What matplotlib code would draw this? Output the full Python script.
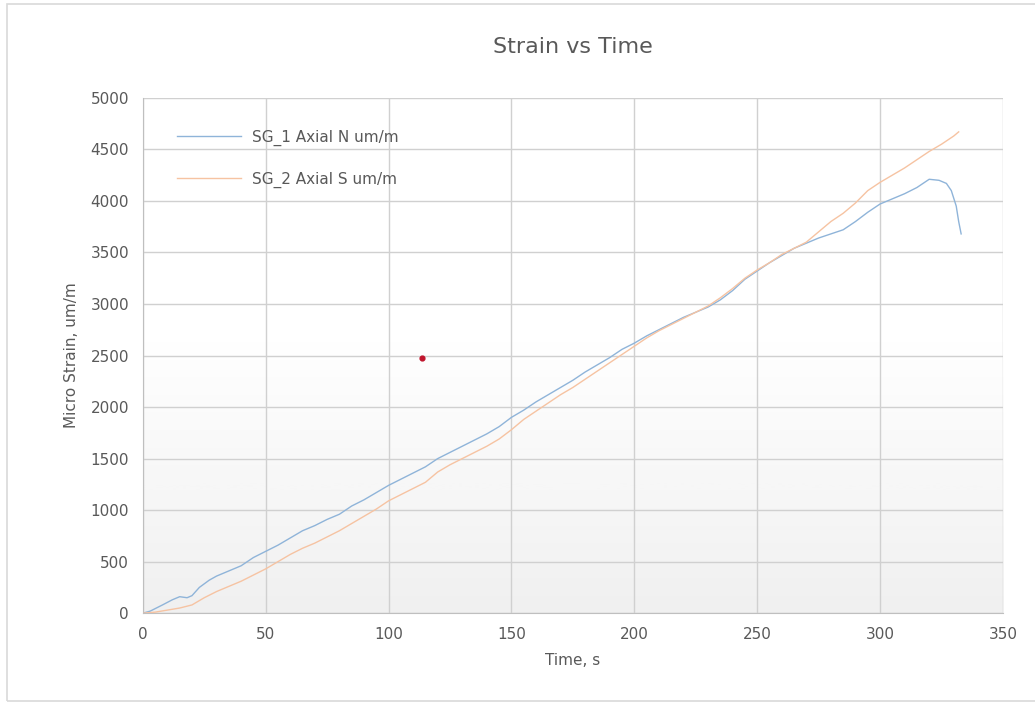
import matplotlib.pyplot as plt
from matplotlib.patches import Rectangle
import numpy as np

# data
t_sg1 = [0, 3, 8, 12, 15, 18, 20, 23, 27, 30, 35, 40, 45, 50, 55, 60, 65, 70, 75, 80,
         85, 90, 95, 100, 105, 110, 115, 120, 125, 130, 135, 140, 145, 150, 155, 160,
         165, 170, 175, 180, 185, 190, 195, 200, 205, 210, 215, 220, 225, 230, 235,
         240, 245, 250, 255, 260, 265, 270, 275, 280, 285, 290, 295, 300, 305, 310,
         315, 320, 324, 327, 329, 331, 332, 333]
sg1 = [0, 20, 80, 130, 160, 150, 170, 250, 320, 360, 410, 460, 540, 600, 660, 730,
       800, 850, 910, 960, 1040, 1100, 1170, 1240, 1300, 1360, 1420, 1500, 1560, 1620,
       1680, 1740, 1810, 1900, 1970, 2050, 2120, 2190, 2260, 2340, 2410, 2480, 2560,
       2620, 2690, 2750, 2810, 2870, 2920, 2970, 3040, 3130, 3240, 3320, 3400, 3470,
       3540, 3590, 3640, 3680, 3720, 3800, 3890, 3970, 4020, 4070, 4130, 4210, 4200,
       4170, 4100, 3950, 3800, 3680]

t_sg2 = [0, 5, 10, 15, 20, 25, 30, 35, 40, 45, 50, 55, 60, 65, 70, 75, 80, 85, 90, 95,
         100, 105, 110, 115, 120, 125, 130, 135, 140, 145, 150, 155, 160, 165, 170, 175,
         180, 185, 190, 195, 200, 205, 210, 215, 220, 225, 230, 235, 240, 245, 250, 255,
         260, 265, 270, 275, 280, 285, 290, 295, 300, 305, 310, 315, 320, 325, 330, 332]
sg2 = [0, 10, 30, 50, 80, 150, 210, 260, 310, 370, 430, 500, 570, 630, 680, 740, 800,
       870, 940, 1010, 1090, 1150, 1210, 1270, 1370, 1440, 1500, 1560, 1620, 1690, 1780,
       1880, 1960, 2040, 2120, 2190, 2270, 2350, 2430, 2510, 2590, 2670, 2740, 2800,
       2860, 2920, 2980, 3060, 3150, 3250, 3330, 3400, 3480, 3540, 3600, 3700, 3800,
       3880, 3980, 4100, 4180, 4250, 4320, 4400, 4480, 4550, 4630, 4670]

# single stray point
dot_t = [113.5]
dot_y = [2475]

txt = "#595959"
grid = "#d0d0d0"

fig = plt.figure(figsize=(10.35, 7.04), dpi=100)
# chart-area border (right edge runs off the canvas)
fig.add_artist(Rectangle((7 / 1035, 3 / 704), 1.1, 697 / 704, transform=fig.transFigure,
                         fill=False, edgecolor="#d9d9d9", lw=1.2))
ax = fig.add_axes([0.138, 0.129, 0.831, 0.732])

# grey gradient on the lower part of the plot area
grad = np.linspace(1, 0, 256).reshape(-1, 1)
ax.imshow(grad, extent=[0, 350, 0, 2700], aspect="auto", cmap="Greys",
          vmin=0, vmax=8, origin="lower", zorder=0)

ax.plot(t_sg1, sg1, color="#8fb4d9", lw=1.0, label="SG_1 Axial N um/m", zorder=3)
ax.plot(t_sg2, sg2, color="#f6c3a2", lw=1.0, label="SG_2 Axial S um/m", zorder=3)
ax.scatter(dot_t, dot_y, s=12, color="#c0142c", zorder=4)

ax.set_xlim(0, 350)
ax.set_ylim(0, 5000)
ax.set_xticks(np.arange(0, 351, 50))
ax.set_yticks(np.arange(0, 5001, 500))
ax.grid(True, color=grid, lw=1.0, zorder=1)
ax.set_axisbelow(True)
for s in ["top", "right"]:
    ax.spines[s].set_visible(False)
for s in ["left", "bottom"]:
    ax.spines[s].set_color("#bfbfbf")
ax.tick_params(colors=txt, labelsize=11, length=0, pad=10)

ax.set_title("Strain vs Time", fontsize=16, color=txt, pad=32)
ax.set_xlabel("Time, s", fontsize=11, color=txt, labelpad=8)
ax.set_ylabel("Micro Strain, um/m", fontsize=11, color=txt, labelpad=8)

ax.legend(loc="upper left", frameon=False, fontsize=11, labelcolor=txt,
          handlelength=4.2, handletextpad=0.7, bbox_to_anchor=(0.024, 0.965),
          labelspacing=1.7)

plt.savefig("out.png", dpi=100)
